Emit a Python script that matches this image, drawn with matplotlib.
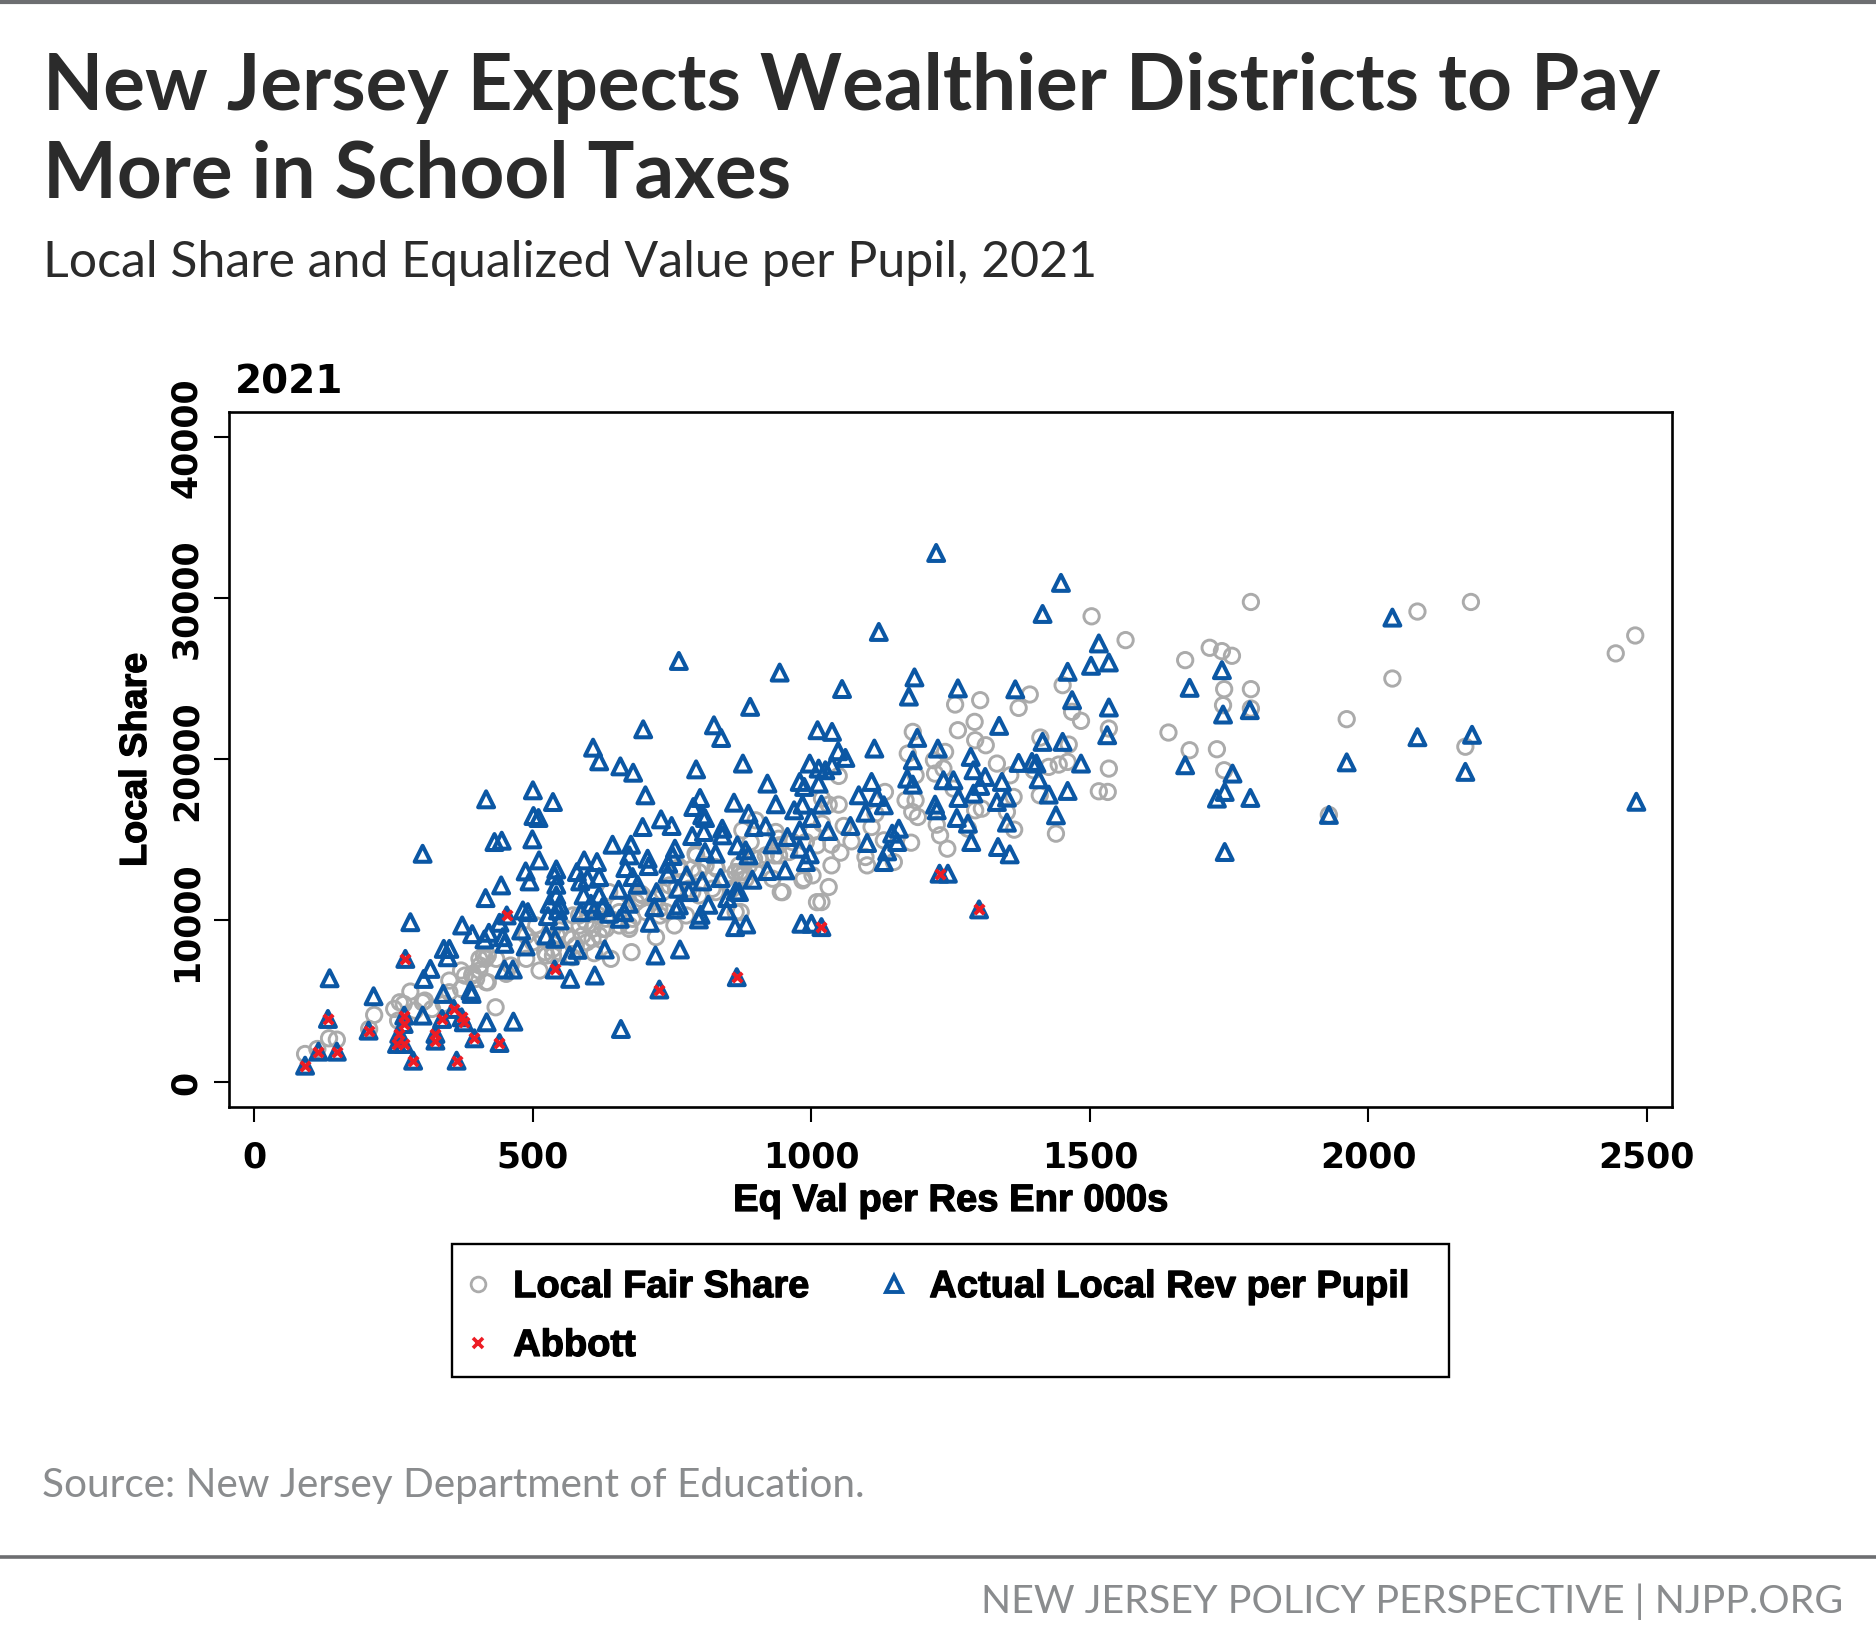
import matplotlib
matplotlib.use("Agg")
import matplotlib.pyplot as plt
import matplotlib.patheffects as pe
from matplotlib.lines import Line2D
from matplotlib.patches import Rectangle

W, H = 1876, 1649

# Local Fair Share
points_fair = [
    (721, 8968), (754, 9692), (677, 8036), (640, 7622), (610, 7974), (512, 6897), (488, 7622), (416, 6173),
    (392, 6690), (371, 6897), (419, 7829), (452, 6690), (876, 15591), (891, 14867), (792, 14143), (828, 13315),
    (763, 13315), (864, 10520), (798, 13004), (864, 13004), (631, 9485), (607, 9485), (583, 10313), (673, 9692),
    (571, 7725), (589, 9071), (524, 7829), (506, 9692), (548, 8036), (404, 6897), (404, 7622), (745, 12176),
    (775, 10313), (697, 11555), (637, 11762), (685, 11141), (786, 11762), (822, 11969), (858, 11969), (727, 10727),
    (607, 8864), (560, 9071), (655, 9692), (703, 10520), (577, 8450),
    (1258, 23397), (1303, 23666), (1372, 23190), (1263, 21804), (1293, 22321), (1294, 21183),
    (1313, 20872), (1182, 21700), (1173, 20354), (1240, 20458), (1220, 19940), (1237, 19423), (1222, 19112),
    (1333, 19734), (1357, 19009), (1410, 17767), (1363, 17663), (1187, 19009), (1255, 18181), (1169, 17456),
    (1187, 17456), (1181, 16732), (1191, 16421), (1225, 15945), (1231, 15283), (1244, 14455), (1294, 16835),
    (1306, 16939), (1351, 16732), (1364, 15635), (1281, 15697), (1132, 17974), (1115, 16628), (1049, 17187),
    (1031, 17187), (1049, 18968), (1019, 17560), (1108, 15800), (1058, 15863), (1072, 14910), (1052, 14207),
    (1036, 13420), (1036, 14703), (1179, 14827), (1130, 14972), (1148, 13627), (1097, 13938), (1100, 13420),
    (1002, 12799), (984, 12488), (945, 11764), (1031, 12075), (1018, 11143), (930, 12592), (897, 13834),
    (942, 14041), (960, 14248), (1002, 15490), (1019, 16007), (900, 16214), (1010, 14662),
    (873, 10522), (879, 13006), (936, 15490),
    (1564, 27393), (1715, 26917), (1737, 26710), (1755, 26421), (1671, 26151), (1392, 24019), (1451, 24599),
    (1468, 22943), (1484, 22384), (1741, 24351), (1789, 24351), (1739, 23357), (1789, 23150),
    (1534, 21908), (1411, 21349), (1462, 20914), (1641, 21660), (1679, 20562), (1728, 20625), (1741, 19320),
    (1534, 19424), (1460, 19838), (1444, 19672), (1426, 19527), (1399, 19320), (1516, 18016), (1532, 17975),
    (1439, 15387),
    (1789, 29760), (2088, 29165), (2184, 29760), (2479, 27680), (2444, 26570), (2043, 25010), (1961, 22490),
    (2174, 20780), (1929, 16550), (1503, 28870),
    (91, 1718), (113, 2029), (134, 2691), (148, 2608), (206, 3271), (215, 4140), (280, 5589), (251, 4513),
    (261, 4927), (268, 4823), (258, 3788), (306, 5030), (319, 4513), (340, 4823), (350, 6272), (371, 5755),
    (391, 6582), (419, 6169), (433, 4616), (415, 7618), (288, 4409), (302, 4927), (350, 5548),
    (536, 7825), (570, 8860), (597, 8653), (625, 9480), (673, 9480), (728, 10309), (793, 14035), (830, 13207),
    (872, 13000), (941, 15070), (934, 14035), (986, 12586), (1010, 11137), (948, 11758), (762, 13207),
    (694, 11344), (652, 10930), (618, 10309), (584, 9688), (543, 9067), (522, 8032), (460, 7204), (412, 7825),
    (405, 7204), (378, 6583),
    (500, 8657), (548, 9381), (572, 10313), (619, 9071), (655, 10520), (679, 10106), (694, 11658), (721, 11348),
    (757, 11969), (780, 11969), (798, 11555), (828, 11762), (846, 12590), (876, 12797), (786, 13211), (810, 13418),
    (398, 6380), (434, 7622), (536, 8243), (488, 9071), (518, 8864), (595, 9899), (631, 10106), (739, 10520),
    (733, 11762), (906, 13834), (918, 14041), (888, 13420), (900, 13006), (882, 12592), (870, 13420), (966, 14869),
    (990, 14869), (942, 14662),
]

# Actual Local Rev per Pupil
points_actual = [
    (416, 17517), (500, 18075), (536, 17350), (501, 16480), (510, 16357), (431, 14867), (444, 14950), (499, 15033),
    (511, 13728), (487, 13045), (494, 12424), (542, 13170), (539, 12797), (542, 12217), (443, 12176), (415, 11390),
    (373, 9692), (391, 9154), (413, 8823), (421, 9237), (440, 9858), (482, 10624), (491, 10520), (479, 9381),
    (446, 8967), (449, 8554), (487, 8388), (542, 11555), (530, 11037), (548, 10975), (527, 10272), (548, 10002),
    (524, 9071), (540, 8864), (545, 10624), (592, 13728), (615, 13625), (579, 13004), (585, 12424), (598, 12590),
    (619, 12694), (591, 11555), (586, 10520), (604, 11037), (619, 11555), (625, 10830), (610, 10624), (637, 10417),
    (654, 11907), (672, 11037), (664, 10520), (656, 10106), (643, 14701), (676, 14701), (673, 14039), (666, 13252),
    (679, 12694), (688, 12217), (706, 13832), (708, 13377), (742, 12900), (743, 13521), (755, 14453), (751, 13998),
    (697, 15798), (730, 16275), (749, 15861), (702, 17765), (800, 17600), (788, 17040), (861, 17310), (804, 16523),
    (809, 16357), (786, 15240), (807, 15488), (840, 15695), (840, 15281), (887, 16626), (897, 15798), (867, 14660),
    (882, 14350), (887, 14039), (809, 14246), (828, 14143), (776, 12797), (804, 12424), (837, 12631), (894, 12528),
    (864, 11803), (849, 11390), (848, 10624), (815, 10975), (801, 10354), (798, 10065), (780, 11762), (761, 11969),
    (722, 11762), (718, 10830), (762, 10934), (757, 10686), (710, 9858), (863, 9589), (883, 9754), (580, 8181),
    (566, 7829), (629, 8202), (720, 7829), (764, 8202), (449, 6960), (464, 6960), (567, 6380), (611, 6587),
    (539, 6960), (727, 5718), (866, 6483), (453, 10313),
    (890, 23253), (1011, 21804), (1037, 21700), (1337, 22073), (1190, 21327), (1227, 20665), (1113, 20665),
    (1286, 20147), (1048, 20500), (1061, 20085), (877, 19734), (997, 19734), (1037, 19630), (1013, 19423),
    (1025, 19320), (1182, 19940), (1291, 19320), (1372, 19775), (1396, 19837), (1404, 19734), (1312, 18905),
    (1237, 18700), (1255, 18700), (1172, 18802), (1182, 18430), (1342, 18595), (1303, 18347), (921, 18491),
    (979, 18595), (987, 18285), (1013, 18491), (1108, 18595), (1085, 17767), (1118, 17663), (1130, 17146),
    (1291, 17870), (1264, 17601), (1351, 17622), (1333, 17353), (936, 17208), (984, 17187), (969, 16835),
    (1018, 17187), (1222, 17187), (1225, 16835), (1097, 16690), (1000, 16359), (1261, 16359),
    (1281, 16007), (1351, 16070), (918, 15842), (1070, 15863), (979, 15593), (1030, 15552),
    (1157, 15697), (1145, 15387), (957, 15180), (930, 14724), (979, 14455), (1100, 14807), (1154, 14869),
    (1287, 14869), (1335, 14558), (1356, 14103), (1136, 14289), (1130, 13627), (997, 14103), (990, 13627),
    (921, 13068), (953, 13110), (1245, 12903), (1230, 12903), (1301, 10688),
    (982, 9798), (1000, 9798), (1018, 9590), (870, 11764),
    (1516, 27187), (1460, 25427), (1502, 25800), (1534, 26007), (1737, 25530), (1679, 24433), (1468, 23668),
    (1534, 23212), (1739, 22777), (1787, 23047), (1531, 21494), (1415, 21080), (1451, 21080),
    (1484, 19735), (1408, 18762), (1426, 17809), (1460, 18037), (1439, 16526),
    (1671, 19631), (1756, 19113), (1742, 17975), (1728, 17561), (1788, 17602), (1742, 14249),
    (1224, 32800), (1448, 30945), (1415, 29016), (1121, 27900), (762, 26100), (943, 25380), (1055, 24360),
    (1185, 25080), (1175, 23890), (1263, 24400), (1366, 24340), (2043, 28790), (2088, 21370), (2186, 21520),
    (2174, 19220), (1961, 19810), (1929, 16550), (2481, 17365),
    (135, 6417), (214, 5300), (132, 3892), (91, 994), (115, 1863), (148, 1863), (205, 3167), (280, 9895),
    (271, 7618), (302, 14138), (316, 6997), (340, 8239), (350, 8239), (347, 7720), (304, 6375), (339, 5444),
    (388, 5650), (390, 5444), (302, 4100), (269, 4100), (268, 3580), (260, 2960), (256, 2340), (268, 2340),
    (285, 1304), (363, 1304), (325, 2960), (325, 2546), (337, 3892), (358, 4512), (372, 3995), (376, 3685),
    (395, 2691), (440, 2401), (417, 3685), (465, 3726), (658, 3270),
    (825, 22108), (838, 21321), (698, 21860), (608, 20721), (619, 19872), (657, 19561), (680, 19168), (793, 19375),
]

# Abbott
points_abbott = [
    (132, 3892), (91, 994), (115, 1863), (148, 1863), (205, 3167), (271, 7618), (269, 4100), (268, 3580),
    (260, 2960), (256, 2340), (268, 2340), (285, 1304), (363, 1304), (325, 2960), (325, 2546), (337, 3892),
    (358, 4512), (372, 3995), (376, 3685), (395, 2691), (440, 2401), (539, 6960), (727, 5718), (866, 6483),
    (453, 10313), (1018, 9590), (1230, 12903), (1301, 10688),
]

x_ticks = [0, 500, 1000, 1500, 2000, 2500]
y_ticks = [0, 10000, 20000, 30000, 40000]

x_fair, y_fair = zip(*points_fair)
x_actual, y_actual = zip(*points_actual)
x_abbott, y_abbott = zip(*points_abbott)

gray = "#ABABAB"
blue = "#0B57A4"
red = "#ED1C24"
chart_font = "Liberation Sans"
heavy = [pe.withStroke(linewidth=0.9, foreground="black")]

fig = plt.figure(figsize=(W / 100, H / 100), dpi=100, facecolor="white")
ax = fig.add_axes([229 / W, 1 - 1108 / H, (1672 - 229) / W, (1108 - 413) / H])

ax.scatter(x_fair, y_fair, s=122, facecolors="none", edgecolors=gray, linewidths=2.1, zorder=3)
ax.scatter(x_actual, y_actual, s=132, marker="^", facecolors="none", edgecolors=blue, linewidths=2.9, zorder=4)
ax.scatter(x_abbott, y_abbott, s=46, marker="x", color=red, linewidths=2.8, zorder=5)

ax.set_xlim(-45.6, 2545)
ax.set_ylim(-1570, 41544)
ax.set_xticks(x_ticks)
ax.set_yticks(y_ticks)
ax.tick_params(length=10.5, width=1.5)
ax.tick_params(axis="x", pad=13)
ax.tick_params(axis="y", pad=8)
for label in ax.get_xticklabels():
    label.set_fontfamily("DejaVu Sans")
    label.set_fontweight("bold")
    label.set_fontsize(25)
for label in ax.get_yticklabels():
    label.set_fontfamily("DejaVu Sans")
    label.set_fontweight("bold")
    label.set_fontsize(25)
    label.set_rotation(90)
    label.set_va("center")
for spine in ax.spines.values():
    spine.set_linewidth(1.9)


def fig_text(x_px, y_px, text, **kwargs):
    return fig.text(x_px / W, 1 - y_px / H, text, **kwargs)


fig_text(951, 1212, "Eq Val per Res Enr 000s", family=chart_font, weight="bold", fontsize=27.5, ha="center", va="baseline", path_effects=heavy)
fig_text(154, 761, "Local Share", family=chart_font, weight="bold", fontsize=27.2, rotation=90, ha="right", va="center", path_effects=heavy)
fig_text(235, 394, "2021", family="DejaVu Sans", weight="bold", fontsize=28, ha="left", va="baseline")

handles = [
    Line2D([], [], ls="", marker="o", ms=10.6, mfc="none", mec=gray, mew=2.0),
    Line2D([], [], ls="", marker="x", ms=6.5, color=red, mew=2.6),
    Line2D([], [], ls="", marker="^", ms=11, mfc="none", mec=blue, mew=2.8),
]
leg = fig.legend(
    handles,
    ["Local Fair Share", "Abbott", "Actual Local Rev per Pupil"],
    ncols=2,
    loc="upper left",
    bbox_to_anchor=(447 / W, 1 - 1245 / H),
    borderaxespad=0,
    prop={"family": chart_font, "weight": "bold", "size": 27.4},
    frameon=False,
    borderpad=0.66,
    labelspacing=0.6,
    handlelength=0.32,
    handletextpad=0.76,
    columnspacing=2.08,
)
for txt in leg.get_texts():
    txt.set_path_effects(heavy)
fig.add_artist(Rectangle((452 / W, 1 - 1378 / H), (1449 - 452) / W, (1378 - 1245) / H,
                         transform=fig.transFigure, fill=False, edgecolor="black", linewidth=1.7))

# Header and footer
title_color = "#2B2B2B"
fig_text(43, 110, "New Jersey Expects Wealthier Districts to Pay", family="Lato", weight="bold", fontsize=56.3, color=title_color, va="baseline")
fig_text(43, 197, "More in School Taxes", family="Lato", weight="bold", fontsize=56.3, color=title_color, va="baseline")
fig_text(43, 277, "Local Share and Equalized Value per Pupil, 2021", family="Lato", fontsize=36, color=title_color, va="baseline")
fig_text(42, 1497, "Source: New Jersey Department of Education.", family="Lato", fontsize=29.2, color="#8A8C8E", va="baseline")
fig_text(1843, 1613, "NEW JERSEY POLICY PERSPECTIVE | NJPP.ORG", family="Lato", fontsize=28.4, color="#8A8C8E", ha="right", va="baseline")

fig.add_artist(plt.Line2D([0, 1], [1 - 3 / H, 1 - 3 / H], color="#6D6E71", lw=3))
fig.add_artist(plt.Line2D([0, 1], [1 - 1558 / H, 1 - 1558 / H], color="#6D6E71", lw=2.6))

fig.savefig("out.png", dpi=100)
